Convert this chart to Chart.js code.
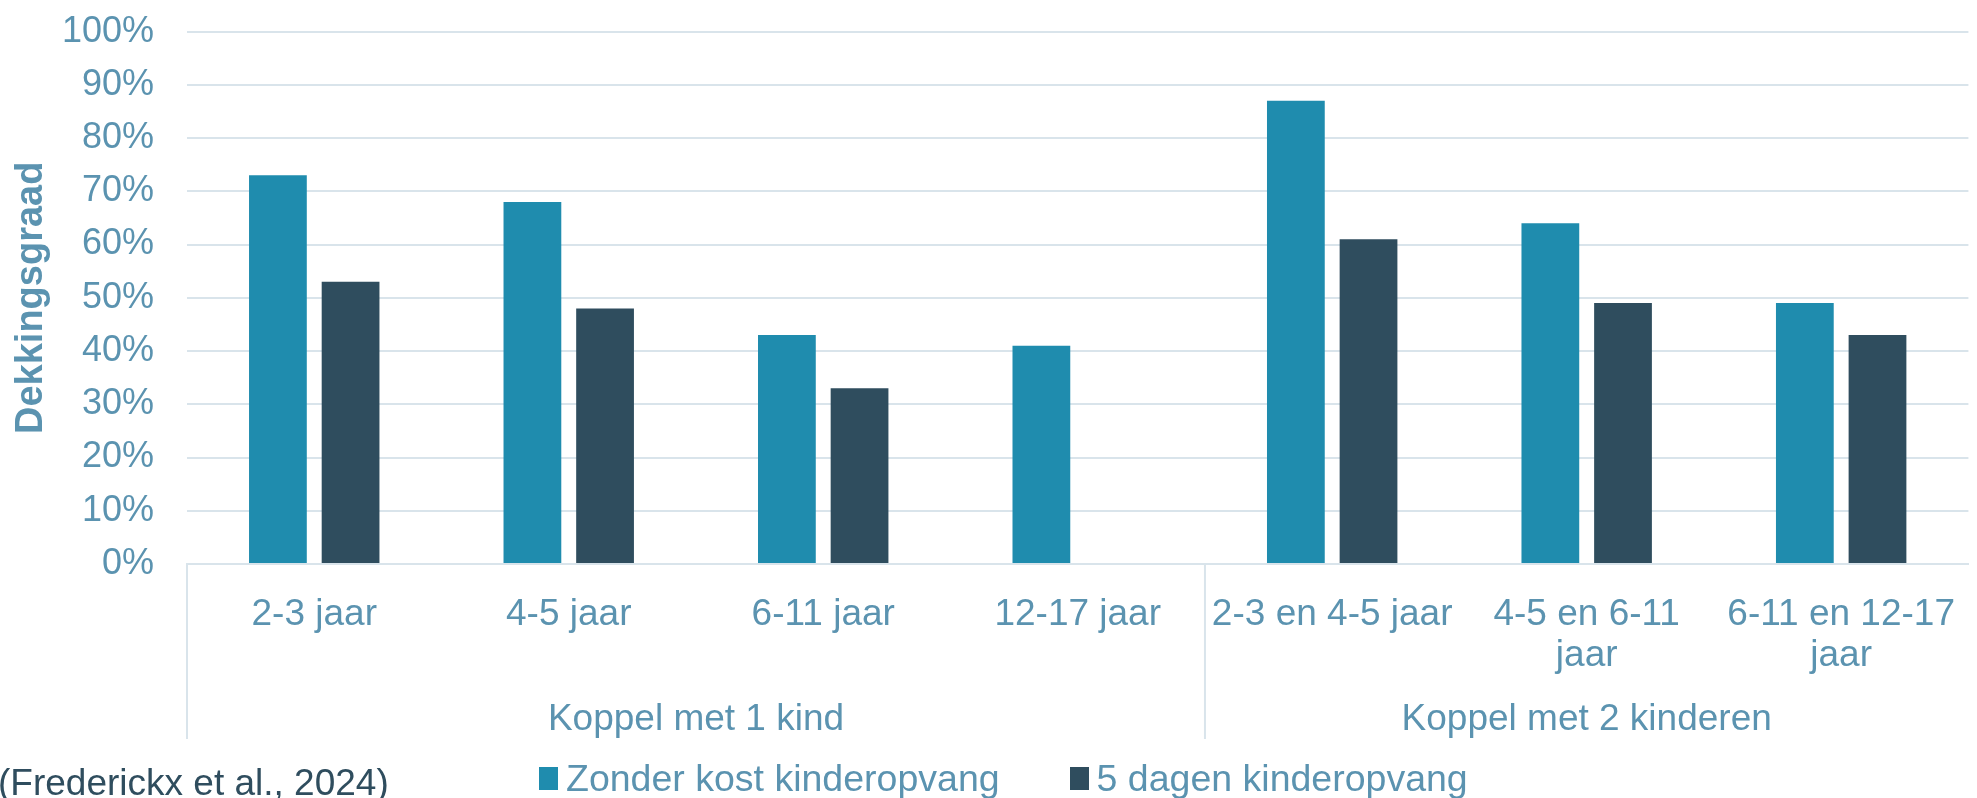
<!DOCTYPE html>
<html>
<head>
<meta charset="utf-8">
<script src="https://cdn.jsdelivr.net/npm/chart.js@4"></script>
<style>
  html, body { margin: 0; padding: 0; background: #fff; overflow: hidden; }
  #wrap { position: relative; width: 1977px; height: 798px; overflow: hidden; }
  #source {
    position: absolute; left: -2px; top: 764px;
    font: 37px/37px "Liberation Sans", Arial, sans-serif;
    color: #2F4D5E; white-space: nowrap;
  }
  #legend {
    position: absolute; left: 539px; top: 760px; height: 37px;
    display: flex; align-items: center; gap: 70px;
    font: 37.5px/37px "Liberation Sans", Arial, sans-serif;
    color: #5B93B0; white-space: nowrap;
  }
  .item { display: flex; align-items: center; }
  .box { width: 19px; height: 23px; margin-right: 8px; }
</style>
</head>
<body>
<div id="wrap">
  <canvas id="chart" width="1977" height="798"></canvas>
  <div id="source">(Frederickx et al., 2024)</div>
  <div id="legend"></div>
</div>
<script>
const categories = ['2-3 jaar', '4-5 jaar', '6-11 jaar', '12-17 jaar', '2-3 en 4-5 jaar', ['4-5 en 6-11', 'jaar'], ['6-11 en 12-17', 'jaar']];
const groupLabels = ['Koppel met 1 kind', 'Koppel met 2 kinderen'];
const groupSizes = [4, 3];
const zonderKost = [73, 68, 43, 41, 87, 64, 49];
const vijfDagen = [53, 48, 33, null, 61, 49, 43];

const fontFamily = '"Liberation Sans", Arial, sans-serif';
const textColor = '#5B93B0';
const gridColor = '#D9E4EB';

// group labels under the category labels, with separator lines
const groupPlugin = {
  id: 'groups',
  afterDraw(chart) {
    const x = chart.scales.x;
    const ctx = chart.ctx;
    const w = (x.right - x.left) / categories.length;
    let start = 0;
    ctx.save();
    ctx.strokeStyle = gridColor;
    ctx.lineWidth = 2;
    ctx.fillStyle = textColor;
    ctx.font = '37px ' + fontFamily;
    ctx.textAlign = 'center';
    ctx.textBaseline = 'middle';
    groupLabels.forEach((label, g) => {
      const left = x.left + start * w;
      const right = left + groupSizes[g] * w;
      ctx.beginPath();
      ctx.moveTo(left, x.top);
      ctx.lineTo(left, x.bottom);
      ctx.stroke();
      ctx.fillText(label, (left + right) / 2, x.bottom - 19);
      start += groupSizes[g];
    });
    ctx.restore();
  }
};

const chart = new Chart(document.getElementById('chart').getContext('2d'), {
  type: 'bar',
  data: {
    labels: categories,
    datasets: [{
      label: 'Zonder kost kinderopvang',
      data: zonderKost,
      backgroundColor: '#1F8CAE',
      categoryPercentage: 0.571,
      barPercentage: 0.795
    }, {
      label: '5 dagen kinderopvang',
      data: vijfDagen,
      backgroundColor: '#2F4D5E',
      categoryPercentage: 0.571,
      barPercentage: 0.795
    }]
  },
  options: {
    responsive: false,
    animation: false,
    layout: { padding: { top: 10, right: 0, bottom: 59, left: 0 } },
    plugins: {
      legend: { display: false },
      tooltip: { enabled: false }
    },
    scales: {
      x: {
        grid: { display: false },
        border: { display: true, color: gridColor, width: 2 },
        ticks: {
          color: textColor,
          font: { family: fontFamily, size: 37, lineHeight: 1.12 },
          padding: 22,
          maxRotation: 0,
          autoSkip: false
        },
        afterFit: s => { s.height = 175; }
      },
      y: {
        min: 0,
        max: 100,
        ticks: {
          stepSize: 10,
          callback: v => v + '%',
          color: textColor,
          font: { family: fontFamily, size: 36 },
          padding: 10
        },
        // invisible tick marks keep the labels away from the plot
        grid: { color: gridColor, lineWidth: 2, drawTicks: true, tickLength: 23, tickColor: 'rgba(0,0,0,0)' },
        border: { display: false },
        title: {
          display: true,
          text: 'Dekkingsgraad',
          color: textColor,
          font: { family: fontFamily, size: 38, weight: 'bold' },
          padding: { top: 9, bottom: 0 }
        },
        afterFit: s => { s.width = 187; }
      }
    }
  },
  plugins: [groupPlugin]
});

// legend built from the datasets
const legend = document.getElementById('legend');
chart.data.datasets.forEach(ds => {
  const item = document.createElement('div');
  item.className = 'item';
  const box = document.createElement('span');
  box.className = 'box';
  box.style.background = ds.backgroundColor;
  const text = document.createElement('span');
  text.textContent = ds.label;
  item.appendChild(box);
  item.appendChild(text);
  legend.appendChild(item);
});
</script>
</body>
</html>
